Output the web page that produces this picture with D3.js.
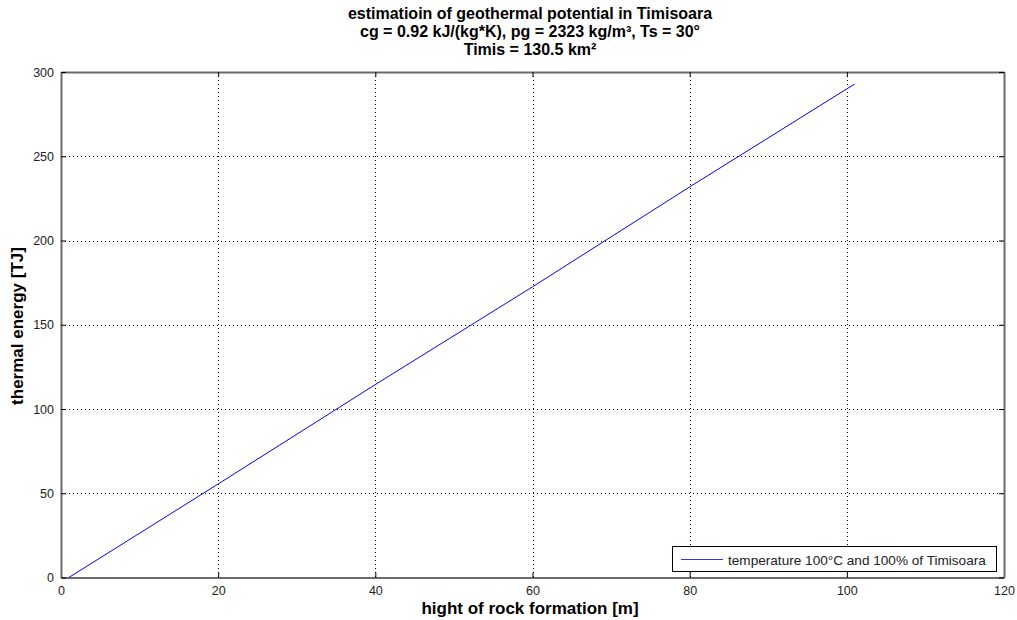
<!DOCTYPE html>
<html><head><meta charset="utf-8">
<script src="https://cdn.jsdelivr.net/npm/d3@7"></script>
<style>
body{margin:0;background:#fff;}
text{font-family:"Liberation Sans",Arial,sans-serif;}
</style></head>
<body><svg id="c" width="1017" height="620"></svg>
<script>
const heightM = [1, 20, 40, 60, 80, 100, 101];
const energyTJ = [0, 55.5, 114.5, 172.5, 231.8, 290, 292.8];
const xTicks = [0, 20, 40, 60, 80, 100, 120];
const yTicks = [0, 50, 100, 150, 200, 250, 300];
const titleLines = ["estimatioin of geothermal potential in Timisoara", "cg = 0.92 kJ/(kg*K), pg = 2323 kg/m³, Ts = 30°", "Timis = 130.5 km²"];
const legendLabel = "temperature 100°C and 100% of Timisoara";

const svg = d3.select("#c");
const L = 61, R = 1004, T = 72, B = 577.5;
const x = d3.scaleLinear().domain([0, 120]).range([L, R]);
const y = d3.scaleLinear().domain([0, 300]).range([B, T]);

// grid
const g = svg.append("g");
g.selectAll(".gx").data(xTicks.slice(1, -1)).enter().append("line")
  .attr("x1", d => Math.round(x(d)) + 0.5).attr("x2", d => Math.round(x(d)) + 0.5)
  .attr("y1", T).attr("y2", B).attr("stroke", "#000").attr("stroke-width", 1).attr("stroke-dasharray", "1,3");
g.selectAll(".gy").data(yTicks.slice(1, -1)).enter().append("line")
  .attr("y1", d => Math.round(y(d)) + 0.5).attr("y2", d => Math.round(y(d)) + 0.5)
  .attr("x1", L).attr("x2", R).attr("stroke", "#000").attr("stroke-width", 1).attr("stroke-dasharray", "1,3");

// axes
const xa = svg.append("g").attr("transform", `translate(0,${B})`)
  .call(d3.axisBottom(x).tickValues(xTicks).tickSizeInner(-5).tickSizeOuter(0).tickPadding(9));
const xt = svg.append("g").attr("transform", `translate(0,${T})`)
  .call(d3.axisTop(x).tickValues(xTicks).tickSizeInner(-5).tickSizeOuter(0).tickFormat(""));
const ya = svg.append("g").attr("transform", `translate(${L},0)`)
  .call(d3.axisLeft(y).tickValues(yTicks).tickSizeInner(-5).tickSizeOuter(0).tickPadding(7));
const yr = svg.append("g").attr("transform", `translate(${R},0)`)
  .call(d3.axisRight(y).tickValues(yTicks).tickSizeInner(-5).tickSizeOuter(0).tickFormat(""));
[xa, xt, ya, yr].forEach(a => {
  a.select(".domain").attr("stroke", "#6b6b6b").attr("stroke-width", 2);
  a.selectAll(".tick line").attr("stroke", "#000");
  a.selectAll("text").attr("font-size", 12.5).attr("fill", "#222").attr("font-family", "'Liberation Sans',Arial,sans-serif");
});

// line
svg.append("path").datum(heightM.map((h, i) => [h, energyTJ[i]]))
  .attr("d", d3.line().x(d => x(d[0])).y(d => y(d[1])))
  .attr("fill", "none").attr("stroke", "#0000ff").attr("stroke-width", 1);

// titles
svg.selectAll(".tt").data(titleLines).enter().append("text")
  .attr("x", 530).attr("y", (d, i) => 19 + i * 18).attr("text-anchor", "middle")
  .attr("font-size", 16).attr("font-weight", "bold").attr("fill", "#000").text(d => d);

svg.append("text").attr("x", 530).attr("y", 614).attr("text-anchor", "middle")
  .attr("font-size", 17).attr("font-weight", "bold").text("hight of rock formation [m]");
svg.append("text").attr("transform", "translate(23,326) rotate(-90)").attr("text-anchor", "middle")
  .attr("font-size", 17).attr("font-weight", "bold").text("thermal energy [TJ]");

// legend
const lg = svg.append("g");
lg.append("rect").attr("x", 672.5).attr("y", 546.5).attr("width", 324).attr("height", 25)
  .attr("fill", "#fff").attr("stroke", "#000").attr("stroke-width", 1);
lg.append("line").attr("x1", 681).attr("x2", 723).attr("y1", 559.5).attr("y2", 559.5).attr("stroke", "#3333ff").attr("stroke-width", 1.2);
lg.append("text").attr("x", 728).attr("y", 564.5).attr("font-size", 13.6).attr("fill", "#222").text(legendLabel);
</script></body></html>
